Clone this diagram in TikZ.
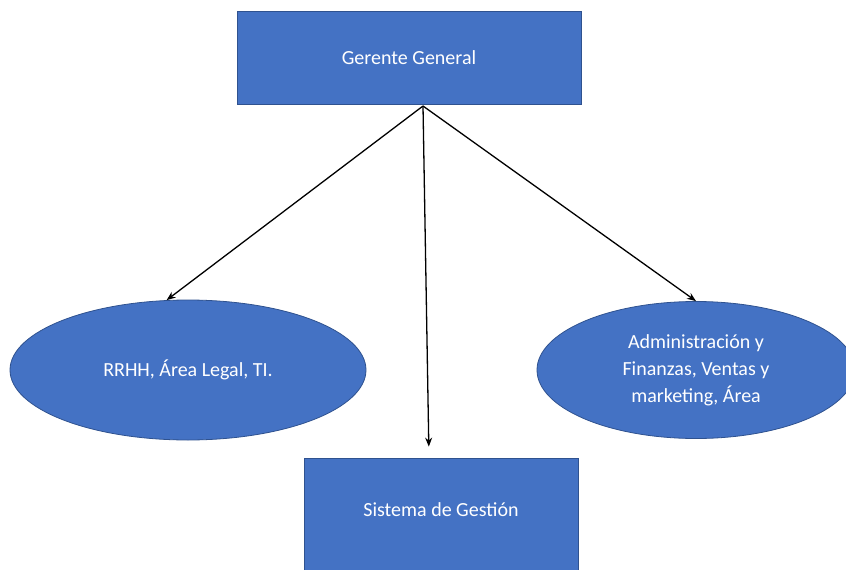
\documentclass[tikz,border=0pt]{standalone}
\usepackage{fontspec}
\setmainfont{Carlito}
\usetikzlibrary{arrows.meta,shapes.geometric}
\definecolor{cajaazul}{HTML}{4472C4}
\definecolor{bordeazul}{HTML}{2F528F}

\begin{document}
\begin{tikzpicture}[x=1pt,y=-1pt,->,>={Stealth[length=9pt,width=7pt]},
  caja/.style={draw=bordeazul,fill=cajaazul,line width=0.8pt,text=white,inner sep=0pt,font=\fontsize{20}{27}\selectfont,align=center},
  area/.style={caja,ellipse}]
\useasboundingbox (0,0) rectangle (846,570);
\node[caja,minimum width=344pt,minimum height=93pt] (gg) at (409,57.5) {Gerente General};
\node[area,minimum width=356pt,minimum height=140pt] (rrhh) at (188,370) {RRHH, Área Legal, TI.};
\node[area,minimum width=318pt,minimum height=137pt] (adm) at (696,370) {Administración y\\Finanzas, Ventas y\\marketing, Área};
\node[caja,minimum width=274pt,minimum height=130pt,text depth=26pt] (sis) at (441,523) {Sistema de Gestión};
\coordinate (origen) at (423,106);
\path[line width=1.3pt] (origen) edge (rrhh.107);
\path[line width=1.3pt] (origen) edge (adm.north);
\path[line width=1.3pt,shorten >=11pt] (origen) edge ([xshift=-12pt]sis.north);
\end{tikzpicture}
\end{document}
